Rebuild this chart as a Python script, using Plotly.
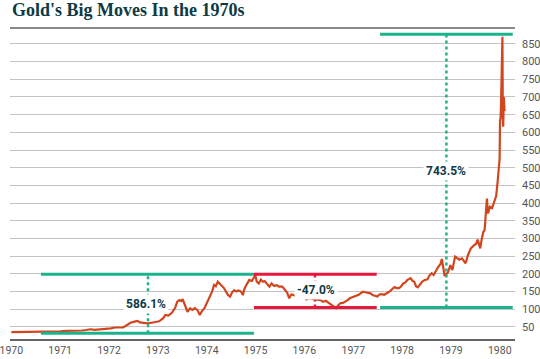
import plotly.graph_objects as go

# ---- gold price series (USD/oz) ----
dates = [
    "1970-01-01", "1970-03-01", "1970-05-01", "1970-07-01", "1970-09-01", "1970-11-01",
    "1971-01-01", "1971-02-15", "1971-04-01", "1971-05-15", "1971-06-15", "1971-07-15",
    "1971-08-15", "1971-09-15", "1971-10-15", "1971-11-15", "1971-12-15",
    "1972-01-15", "1972-02-15", "1972-03-15", "1972-04-15", "1972-05-01", "1972-05-20",
    "1972-06-10", "1972-07-10", "1972-08-01", "1972-08-20", "1972-09-15", "1972-10-15",
    "1972-11-15", "1972-12-15",
    "1973-01-10", "1973-02-10", "1973-02-25", "1973-03-20", "1973-04-15", "1973-05-10",
    "1973-05-25", "1973-06-10", "1973-06-25", "1973-07-05", "1973-07-20", "1973-08-10",
    "1973-08-30", "1973-09-15", "1973-10-05", "1973-10-25", "1973-11-10", "1973-11-25",
    "1973-12-15",
    "1974-01-10", "1974-01-25", "1974-02-10", "1974-02-25", "1974-03-10", "1974-03-25",
    "1974-04-10", "1974-04-25", "1974-05-10", "1974-05-25", "1974-06-10", "1974-06-25",
    "1974-07-10", "1974-07-25", "1974-08-10", "1974-08-25", "1974-09-15", "1974-09-28",
    "1974-10-10", "1974-10-25", "1974-11-15", "1974-12-05", "1974-12-30",
    "1975-01-10", "1975-01-25", "1975-02-10", "1975-02-25", "1975-03-10", "1975-03-25",
    "1975-04-15", "1975-05-01", "1975-05-20", "1975-06-10", "1975-06-25", "1975-07-20",
    "1975-08-10", "1975-08-25", "1975-09-10", "1975-09-25", "1975-10-15", "1975-11-01",
    "1975-11-20", "1975-12-10", "1975-12-28",
    "1976-01-15", "1976-02-10", "1976-03-01", "1976-03-20", "1976-04-10", "1976-05-01",
    "1976-05-20", "1976-06-10", "1976-07-01", "1976-07-20", "1976-08-10", "1976-08-25",
    "1976-09-10", "1976-09-25", "1976-10-15", "1976-10-30", "1976-11-20", "1976-12-05",
    "1976-12-25",
    "1977-01-15", "1977-02-10", "1977-02-28", "1977-03-15", "1977-04-01", "1977-04-20",
    "1977-05-10", "1977-05-25", "1977-06-10", "1977-06-30", "1977-07-15", "1977-08-01",
    "1977-08-20", "1977-09-05", "1977-09-20", "1977-10-05", "1977-10-20", "1977-11-05",
    "1977-11-20", "1977-12-10", "1977-12-25",
    "1978-01-10", "1978-01-25", "1978-02-10", "1978-03-05", "1978-03-20", "1978-04-01",
    "1978-04-15", "1978-04-28", "1978-05-15", "1978-06-01", "1978-06-20", "1978-07-10",
    "1978-07-25", "1978-08-10", "1978-08-25", "1978-09-10", "1978-09-25", "1978-10-15",
    "1978-10-25", "1978-11-15", "1978-11-28", "1978-12-10", "1978-12-28",
    "1979-01-12", "1979-02-01", "1979-02-20", "1979-03-05", "1979-03-25", "1979-04-20",
    "1979-05-10", "1979-05-30", "1979-06-20", "1979-07-10", "1979-07-20", "1979-08-08",
    "1979-08-20", "1979-09-01", "1979-09-10", "1979-09-27", "1979-10-05", "1979-10-20",
    "1979-11-05", "1979-11-20", "1979-12-05", "1979-12-15", "1979-12-24", "1979-12-31",
    "1980-01-03", "1980-01-07", "1980-01-10", "1980-01-15", "1980-01-21", "1980-01-24",
    "1980-01-27", "1980-01-31", "1980-02-06",
]
prices = [
    35.2, 35.3, 35.6, 35.3, 36.2, 37.4,
    37.5, 38.8, 38.9, 40.5, 40.0, 41.5,
    43.5, 41.8, 42.5, 42.9, 43.6,
    46.0, 48.5, 48.2, 49.0, 52, 58,
    62, 65, 67, 63, 62, 60,
    62, 64,
    66, 75, 84, 82, 90, 104,
    121, 126, 123, 129, 113, 93,
    103, 98, 103, 97, 84, 94,
    103,
    125, 136, 150, 169, 165, 178,
    172, 167, 160, 150, 140, 136,
    148, 154, 150, 153, 150, 140,
    158, 169, 183, 180, 197,
    178, 173, 184, 178, 180, 172,
    164, 173, 166, 168, 164, 164,
    154, 147, 131, 142, 140, 138,
    134, 137, 140,
    128, 131, 129, 128, 128, 126,
    121, 124, 118, 112, 108, 103,
    111, 117, 118, 121, 126, 131,
    134,
    136, 141, 146, 150, 148, 146,
    145, 140, 138, 136, 142, 143,
    141, 144, 148, 152, 157, 163,
    160, 160, 165,
    173, 176, 183, 188, 180, 178,
    165, 162, 170, 178, 183, 185,
    196, 202, 197, 210, 218, 228,
    242, 194, 200, 205, 225,
    211, 249, 242, 240, 244, 230,
    255, 272, 280, 286, 297, 272,
    300, 319, 324, 413, 371, 390,
    386, 404, 420, 456, 490, 525,
    634, 640, 672, 760, 870, 640,
    616, 700, 660,
]

# ---- move markers: levels and spans ----
move_labels = ["586.1%", "-47.0%", "743.5%"]
move_colors = ["#1bb38c", "#e8173c", "#1bb38c"]
move_low = [32, 105, 105]
move_high = [199, 199, 877]
move_start = ["1970-08-10", "1974-12-20", "1977-07-20"]
move_end = ["1974-12-20", "1977-06-25", "1980-04-07"]
move_mid = ["1972-10-19", "1976-03-20", "1978-11-28"]
label_x = ["1972-10-05", "1976-03-25", "1978-11-24"]
label_y = [114, 155, 491]

y_ticks = list(range(50, 851, 50))
x_ticks = [f"{y}-01-01" for y in range(1970, 1981)]
x_ticklabels = [str(y) for y in range(1970, 1981)]

TXT = "#0d3a44"
COND = "Roboto, sans-serif"

fig = go.Figure()
fig.add_trace(go.Scatter(
    x=dates, y=prices, mode="lines",
    line=dict(color="#d2461f", width=2.2),
    hoverinfo="skip", showlegend=False,
))

shapes = []
annotations = []
for lab, col, lo, hi, s, e, m, lx, ly in zip(move_labels, move_colors, move_low, move_high,
                                             move_start, move_end, move_mid, label_x, label_y):
    for lvl in (lo, hi):
        shapes.append(dict(type="line", xref="x", yref="y", x0=s, x1=e, y0=lvl, y1=lvl,
                           line=dict(color=col, width=3), layer="above"))
    shapes.append(dict(type="line", xref="x", yref="y", x0=m, x1=m, y0=lo, y1=hi,
                       line=dict(color=col, width=2.5, dash="dot"), layer="above"))
    annotations.append(dict(x=lx, y=ly, xref="x", yref="y", text=lab, showarrow=False,
                            font=dict(family=COND, size=12, color=TXT, weight="bold"),
                            bgcolor="white", borderpad=2))

# top rule under the title
shapes.append(dict(type="line", xref="paper", yref="paper", x0=0, x1=1, y0=1, y1=1,
                   line=dict(color="#8a8a8a", width=2), layer="above"))

annotations.append(dict(text="<b>Gold's Big Moves In the 1970s</b>", xref="paper", yref="paper",
                        x=0, y=1, yshift=6, xanchor="left", yanchor="bottom", showarrow=False,
                        font=dict(family="Liberation Serif, serif", size=18, color=TXT)))

fig.update_layout(
    width=540, height=359,
    margin=dict(l=10, r=25, t=28, b=20),
    paper_bgcolor="white", plot_bgcolor="white",
    shapes=shapes, annotations=annotations,
    xaxis=dict(
        type="date", range=["1969-12-22", "1980-04-24"], automargin=False,
        tickvals=x_ticks, ticktext=x_ticklabels, ticklabeloverflow="allow",
        showgrid=False, zeroline=False,
        showline=True, linecolor="#666666", linewidth=2,
        ticks="", tickfont=dict(family=COND, size=10.5, color="#555555"),
    ),
    yaxis=dict(
        range=[16, 895], side="right", automargin=False,
        tickvals=y_ticks, showgrid=True, gridcolor="#c4c4c4", gridwidth=1,
        zeroline=False, showline=False, ticks="",
        ticklabelstandoff=6, ticklabeloverflow="allow",
        tickfont=dict(family=COND, size=11, color="#555555"),
    ),
)

fig.write_html("out.html", config={"displayModeBar": False},
               post_script="document.body.style.margin='0';")
